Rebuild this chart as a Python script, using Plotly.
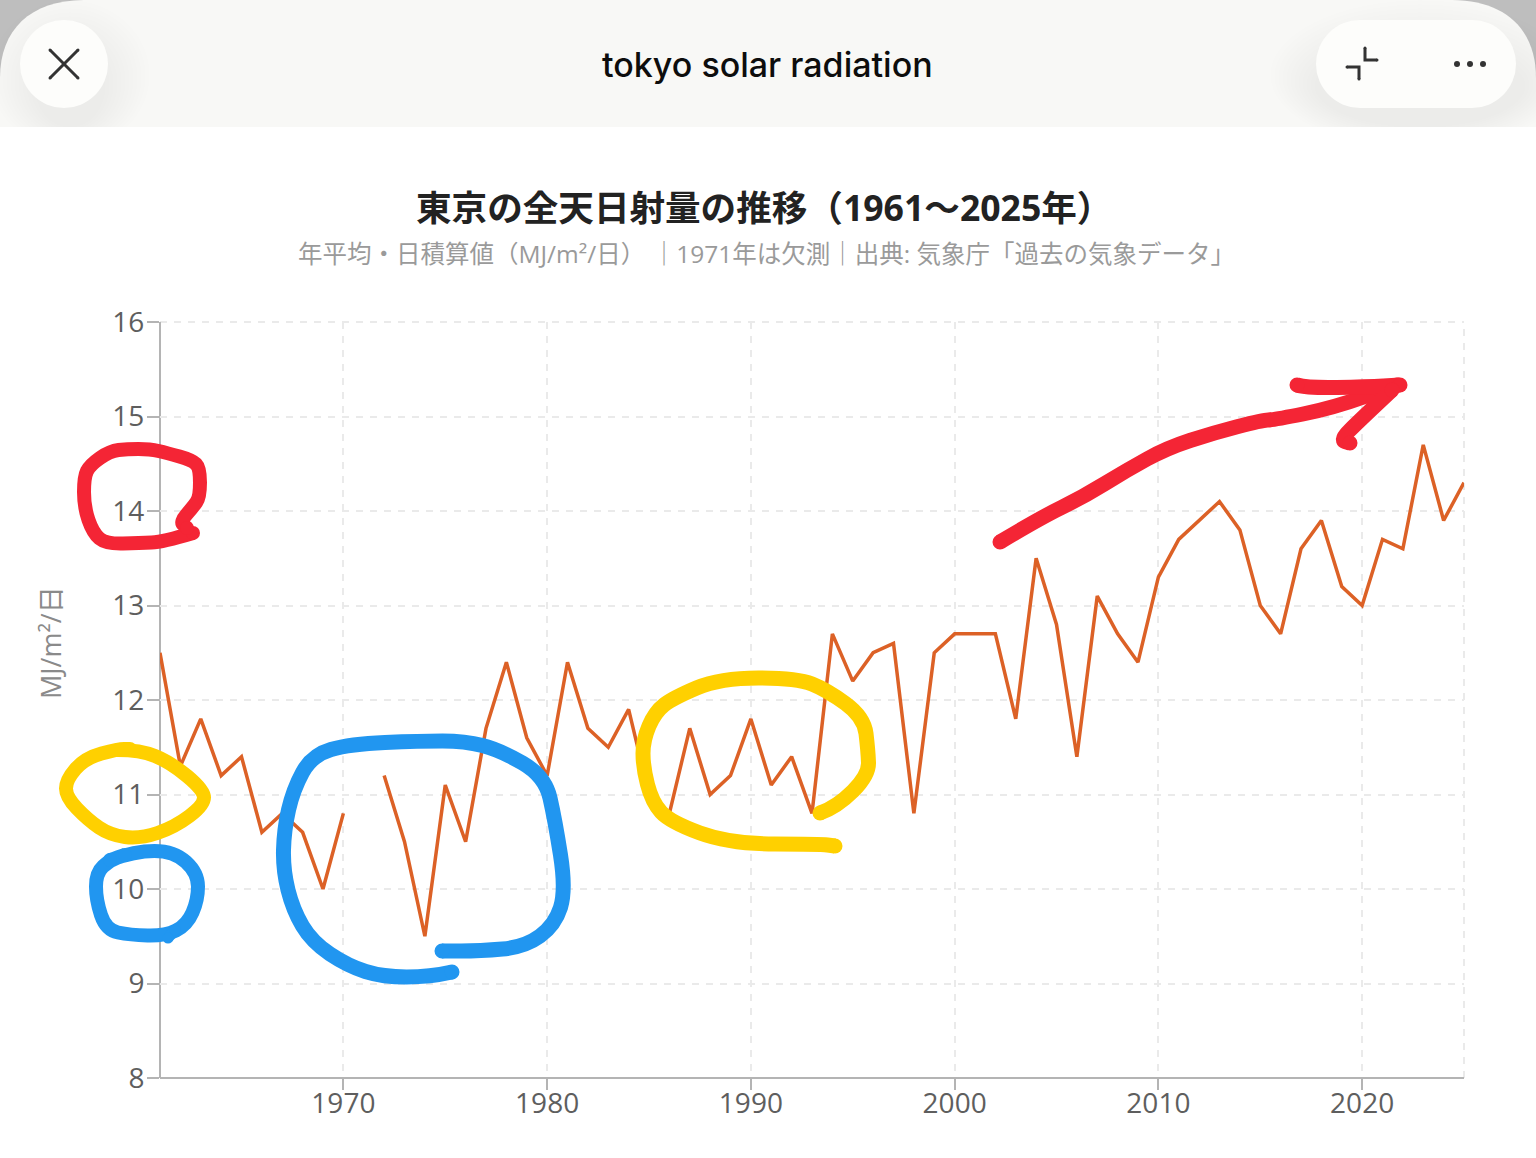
import plotly.graph_objects as go

years = list(range(1961, 2026))
radiation = [12.5, 11.3, 11.8, 11.2, 11.4, 10.6, 10.8, 10.6, 10.0, 10.8,
             None, 11.2, 10.5, 9.5, 11.1, 10.5, 11.7, 12.4, 11.6, 11.2,
             12.4, 11.7, 11.5, 11.9, 11.0, 10.8, 11.7, 11.0, 11.2, 11.8,
             11.1, 11.4, 10.8, 12.7, 12.2, 12.5, 12.6, 10.8, 12.5, 12.7,
             12.7, 12.7, 11.8, 13.5, 12.8, 11.4, 13.1, 12.7, 12.4, 13.3,
             13.7, 13.9, 14.1, 13.8, 13.0, 12.7, 13.6, 13.9, 13.2, 13.0,
             13.7, 13.6, 14.7, 13.9, 14.3]
x_ticks = [1970, 1980, 1990, 2000, 2010, 2020]
y_ticks = [8, 9, 10, 11, 12, 13, 14, 15, 16]

page_title = "tokyo solar radiation"
chart_title = "東京の全天日射量の推移（1961〜2025年）"
chart_subtitle = "年平均・日積算値（MJ/m²/日） ｜1971年は欠測｜出典: 気象庁「過去の気象データ」"
y_title = "MJ/m²/日"

W, H = 1536, 1158
L, R, T, B = 160, 1464, 322, 1078  # plot box in page pixels

RED = "#F42535"
YELLOW = "#FFD000"
BLUE = "#2196F0"
GRID = "#EAEAEA"
AXIS = "#B4B4B4"
FONT = "Open Sans, Noto Sans CJK JP"


def px(x, y):
    # page pixels -> paper coords
    return (x - L) / (R - L), (B - y) / (B - T)


def path_of(points, smooth=True):
    pts = [px(*p) for p in points]
    d = "M %.5f %.5f" % pts[0]
    if not smooth:
        for p in pts[1:]:
            d += " L %.5f %.5f" % p
        return d
    for a, b in zip(pts[1:-1], pts[2:]):
        mid = ((a[0] + b[0]) / 2, (a[1] + b[1]) / 2)
        d += " Q %.5f %.5f %.5f %.5f" % (a[0], a[1], mid[0], mid[1])
    d += " L %.5f %.5f" % pts[-1]
    return d


shapes = []


def box(x0, y0, x1, y1, color, opacity=1, kind="rect", layer="above"):
    a = px(x0, y1)
    b = px(x1, y0)
    shapes.append(dict(type=kind, xref="paper", yref="paper", x0=a[0], y0=a[1], x1=b[0], y1=b[1],
                       fillcolor=color, opacity=opacity, line_width=0, layer=layer))


def stroke(points, color, width, smooth=True):
    # hand drawn pen stroke, with a dot on each end for the round cap
    shapes.append(dict(type="path", xref="paper", yref="paper", path=path_of(points, smooth),
                       line=dict(color=color, width=width), layer="above"))
    r = width / 2
    for x, y in (points[0], points[-1]):
        box(x - r, y - r, x + r, y + r, color, kind="circle")


# app header
box(0, 0, 110, 90, "#BEBEBE")
box(1426, 0, W, 90, "#BEBEBE")
hdr = px(0, 127), px(0, 78), px(0, 30), px(30, 0), px(85, 0), px(1451, 0), px(1506, 0), px(W, 30), px(W, 78), px(W, 127)
shapes.append(dict(type="path", xref="paper", yref="paper", fillcolor="#F8F8F6", line_width=0,
                   path="M %.5f %.5f L %.5f %.5f C %.5f %.5f %.5f %.5f %.5f %.5f L %.5f %.5f "
                        "C %.5f %.5f %.5f %.5f %.5f %.5f L %.5f %.5f Z" % sum(hdr, ())))
# soft shadow inside the header, round the buttons
for i in range(12):
    box(-10 + i * 4, 0 + i * 4, 150 - i * 4, 150 - i * 2, "#000000", 0.0026, kind="circle")
    box(1270 + i * 4, 0 + i * 4, 1570 - i * 4, 150 - i * 2, "#000000", 0.0026, kind="circle")
# header ends with a hard edge, fainter shadow below it
box(0, 127, W, 215, "#FFFFFF")
for i in range(12):
    box(-40 + i * 5, 60 + i * 3, 170 - i * 5, 190 - i * 3, "#000000", 0.0016, kind="circle")
    box(1280 + i * 5, 60 + i * 3, 1580 - i * 5, 190 - i * 3, "#000000", 0.0016, kind="circle")
    box(0, 127, W, 127 + (12 - i) * 3, "#000000", 0.0004)
box(20, 20, 108, 108, "#FDFDFB", kind="circle")
box(1316, 20, 1404, 108, "#FDFDFB", kind="circle")
box(1428, 20, 1516, 108, "#FDFDFB", kind="circle")
box(1360, 20, 1472, 108, "#FDFDFB")
# header icons
ICON = "#333333"
for seg in ([(50, 50), (78, 78)], [(78, 50), (50, 78)],
            [(1365, 48), (1365, 60), (1377, 60)], [(1347, 67), (1359, 67), (1359, 79)]):
    stroke(seg, ICON, 3, smooth=False)
for cx in (1457, 1470, 1483):
    box(cx - 3, 61, cx + 3, 67, ICON, kind="circle")

# edge grid lines that plotly leaves out, paper refs so they do not get clipped
shapes.append(dict(type="line", xref="paper", yref="paper", x0=1, x1=1, y0=0, y1=1, layer="below",
                   line=dict(color=GRID, width=2, dash="7px,7px")))
shapes.append(dict(type="line", xref="paper", yref="paper", x0=0, x1=1, y0=1, y1=1, layer="below",
                   line=dict(color=GRID, width=2, dash="7px,7px")))
# axis lines as shapes, so they sit centred on the plot box edge
shapes.append(dict(type="line", xref="paper", yref="paper", x0=0, x1=0, y0=0, y1=1, layer="below",
                   line=dict(color=AXIS, width=2)))
shapes.append(dict(type="line", xref="paper", yref="paper", x0=0, x1=1, y0=0, y1=0, layer="below",
                   line=dict(color=AXIS, width=2)))

# pen scribbles
stroke([(193, 533), (163, 542), (140, 543), (106, 544), (93, 533), (84, 507), (84, 477), (90, 465),
        (110, 451), (127, 449), (150, 449), (167, 453), (192, 460), (200, 468), (200, 497), (193, 507),
        (180, 522), (187, 528)], RED, 14)
stroke([(1000, 542), (1040, 518), (1083, 497), (1127, 470), (1167, 448), (1213, 433), (1263, 420),
        (1273, 420), (1333, 408), (1397, 385)], RED, 15)
stroke([(1297, 385), (1307, 388), (1367, 387), (1400, 385)], RED, 15)
stroke([(1392, 390), (1360, 420), (1340, 440), (1350, 443)], RED, 15)
stroke([(118, 750), (140, 750), (170, 762), (204, 790), (204, 805), (175, 827), (140, 839), (110, 835),
        (88, 820), (66, 797), (66, 780), (85, 758), (118, 749), (130, 749)], YELLOW, 14)
stroke([(820, 813), (837, 807), (869, 775), (868, 750), (864, 717), (827, 690), (797, 678), (720, 678),
        (673, 698), (655, 712), (643, 740), (643, 767), (652, 802), (670, 822), (730, 844), (820, 844),
        (835, 846)], YELLOW, 15)
stroke([(110, 860), (135, 851), (174, 851), (198, 873), (198, 900), (187, 925), (165, 936), (130, 935),
        (106, 930), (96, 900), (96, 873), (110, 860), (125, 855)], BLUE, 14)
stroke([(175, 930), (168, 938)], BLUE, 11)
stroke([(452, 972), (430, 977), (383, 977), (348, 966), (312, 942), (293, 910), (283, 870), (284, 830),
        (293, 790), (312, 755), (350, 744), (420, 741), (465, 741), (500, 750), (545, 776), (555, 820),
        (566, 890), (555, 925), (525, 947), (480, 951), (442, 951)], BLUE, 15)


def label(text, x, y, size, color, family, weight=400, angle=0):
    ax, ay = px(x, y)
    return dict(text=text, x=ax, y=ay, xref="paper", yref="paper", showarrow=False,
                xanchor="center", yanchor="middle", textangle=angle,
                font=dict(size=size, color=color, family=family, weight=weight))


fig = go.Figure()
fig.add_trace(go.Scatter(x=years, y=radiation, mode="lines", connectgaps=False, showlegend=False,
                         hoverinfo="skip", line=dict(color="#DC6126", width=3.5)))
fig.update_layout(
    width=W, height=H,
    margin=dict(l=L, r=W - R, t=T, b=H - B),
    paper_bgcolor="white", plot_bgcolor="white",
    shapes=shapes,
    annotations=[
        label(page_title, 767, 65, 34, "#0D0D0D", "Inter", 500),
        label(chart_title, 764, 207, 35.6, "#222222", FONT, 700),
        label(chart_subtitle, 766, 254, 24.5, "#9A9A9A", FONT),
        label(y_title, 50, 643, 27, "#8A8A8A", FONT, angle=-90),
    ],
)
fig.update_xaxes(range=[1961, 2025], tickvals=x_ticks, ticks="outside", ticklen=11, tickwidth=2,
                 tickcolor=AXIS, showline=False,
                 showgrid=True, gridcolor=GRID, gridwidth=2, griddash="7px,7px", zeroline=False,
                 ticklabelstandoff=-11,
                 tickfont=dict(size=28, color="#5E5E5E", family="Open Sans"))
fig.update_yaxes(range=[8, 16], tickvals=y_ticks, ticks="outside", ticklen=12, tickwidth=2,
                 tickcolor=AXIS, showline=False,
                 showgrid=True, gridcolor=GRID, gridwidth=2, griddash="7px,7px", zeroline=False,
                 ticklabelstandoff=-3,
                 tickfont=dict(size=28, color="#5E5E5E", family="Open Sans"))

fig.write_html("out.html", config={"displayModeBar": False},
               post_script="document.body.style.margin='0';document.documentElement.style.overflow='hidden';")
